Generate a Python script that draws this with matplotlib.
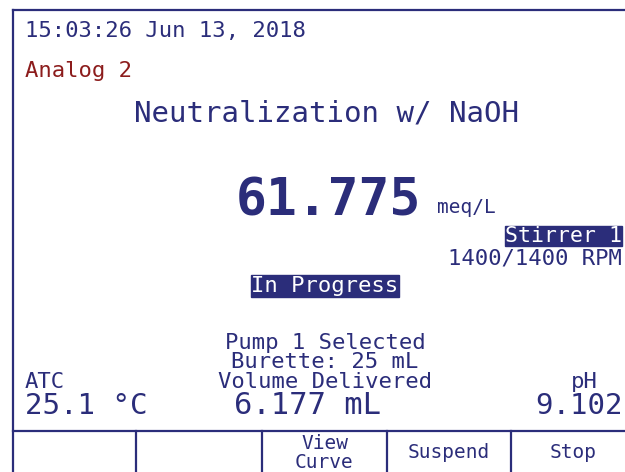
import matplotlib
matplotlib.use("Agg")
import matplotlib.pyplot as plt

# ========== CONFIG ==========

NAVY = "#2b2d7a"
DARK_RED = "#8c1c1c"
MONO = "DejaVu Sans Mono"

TIMESTAMP = "15:03:26 Jun 13, 2018"
CHANNEL = "Analog 2"
METHOD = "Neutralization w/ NaOH"
RESULT = "61.775"
RESULT_UNIT = "meq/L"
STIRRER = "Stirrer 1"
STIRRER_SPEED = "1400/1400 RPM"
STATUS = "In Progress"
PUMP_LINES = ["Pump 1 Selected", "Burette: 25 mL", "Volume Delivered"]
ATC_LABEL, ATC_VALUE = "ATC", "25.1 °C"
VOLUME_VALUE = "6.177 mL"
PH_LABEL, PH_VALUE = "pH", "9.102"
BUTTONS = ["", "", "View\nCurve", "Suspend", "Stop"]

# ========== FIGURE ==========

W, H, DPI = 625, 472, 100
fig = plt.figure(figsize=(W / DPI, H / DPI), dpi=DPI)
ax = fig.add_axes([0, 0, 1, 1])
ax.set_xlim(0, W)
ax.set_ylim(H, 0)
ax.axis("off")

# frame of the display
lw = 1.6
ax.plot([13, W], [10, 10], color=NAVY, lw=lw)
ax.plot([13, 13], [10, H], color=NAVY, lw=lw)
ax.plot([13, W], [431, 431], color=NAVY, lw=lw)

# soft key row
edges = [13, 136, 262, 387, 511, 636]
for x in edges[1:-1]:
    ax.plot([x, x], [431, H], color=NAVY, lw=lw)
for i, label in enumerate(BUTTONS):
    cx = (edges[i] + edges[i + 1]) / 2
    ax.text(cx, 453, label, ha="center", va="center", family=MONO,
            fontsize=14, color=NAVY, linespacing=0.95)

small = dict(family=MONO, fontsize=16, color=NAVY)

# header
ax.text(25, 31, TIMESTAMP, ha="left", va="center", **small)
ax.text(25, 71, CHANNEL, ha="left", va="center", family=MONO, fontsize=16, color=DARK_RED)
ax.text(326, 114, METHOD, ha="center", va="center", family=MONO, fontsize=21, color=NAVY)

# main result
ax.text(421, 215, RESULT, ha="right", va="baseline", family=MONO, fontsize=37,
        fontweight="bold", color=NAVY)
ax.text(437, 213, RESULT_UNIT, ha="left", va="baseline", family=MONO, fontsize=14, color=NAVY)

# stirrer + status
ax.text(622, 236, STIRRER, ha="right", va="center", family=MONO, fontsize=15.5, color="white",
        bbox=dict(boxstyle="square,pad=0.02", fc=NAVY, ec=NAVY))
ax.text(622, 258, STIRRER_SPEED, ha="right", va="center", **small)
ax.text(325, 286, STATUS, ha="center", va="center", family=MONO, fontsize=16, color="white",
        bbox=dict(boxstyle="square,pad=0.03", fc=NAVY, ec=NAVY))

# pump block
for y, line in zip([343, 362, 382], PUMP_LINES):
    ax.text(325, y, line, ha="center", va="center", **small)

# readouts
big = dict(family=MONO, fontsize=21, color=NAVY)
ax.text(25, 382, ATC_LABEL, ha="left", va="center", **small)
ax.text(25, 406, ATC_VALUE, ha="left", va="center", **big)
ax.text(308, 406, VOLUME_VALUE, ha="center", va="center", family=MONO, fontsize=22, color=NAVY)
ax.text(584, 382, PH_LABEL, ha="center", va="center", **small)
ax.text(623, 406, PH_VALUE, ha="right", va="center", **big)

fig.savefig("out.png", dpi=DPI, facecolor="white")
